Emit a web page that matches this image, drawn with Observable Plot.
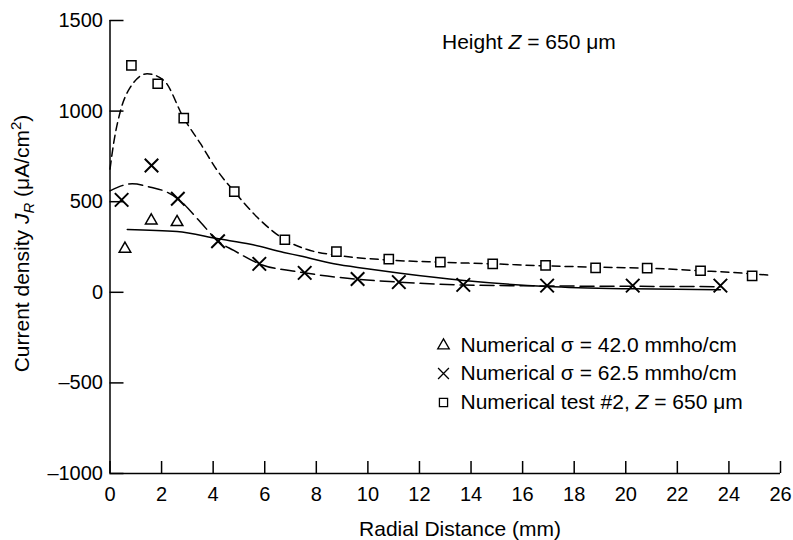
<!DOCTYPE html>
<html><head><meta charset="utf-8">
<script src="https://cdn.jsdelivr.net/npm/d3@7"></script>
<script src="https://cdn.jsdelivr.net/npm/@observablehq/plot@0.6"></script>
<style>body{margin:0;background:#fff} svg{display:block}</style>
</head><body><div id="chart"></div>
<script>
// ---- tick labels ----
const xTicks = [0,2,4,6,8,10,12,14,16,18,20,22,24,26];
const yTicks = [-1000,-500,0,500,1000,1500];

// ---- measured points ----
const triX = [0.58, 1.6, 2.6];
const triY = [240, 396, 387];

const crossX = [0.45, 1.61, 2.63, 4.19, 5.79, 7.55, 9.6, 11.2, 13.7, 16.95, 20.27, 23.67];
const crossY = [510, 700, 516, 282, 157, 107, 73, 56, 41, 37, 37, 37];

const sqX = [0.83, 1.85, 2.86, 4.82, 6.78, 8.78, 10.81, 12.81, 14.84, 16.89, 18.83, 20.83, 22.9, 24.9];
const sqY = [1252, 1151, 961, 556, 290, 225, 183, 166, 157, 148, 135, 133, 119, 91];

// ---- fitted curves ----
const solidX = [0.67, 2.6, 4.2, 5.45, 6.74, 7.39, 8.68, 9.97, 11.26, 13.72, 16.95, 20.3, 23.67];
const solidY = [347, 335, 295, 265, 220, 200, 157, 130, 105, 65, 32, 19, 14];

const longDashX = [0, 0.86, 1.57, 2.22, 2.63, 3.51, 4.19, 4.8, 5.79, 7.39, 9.6, 11.2, 13.72, 16.95, 20.3, 23.67];
const longDashY = [560, 599, 580, 552, 516, 387, 282, 231, 157, 111, 72, 56, 40, 35, 33, 31];

const shortDashX = [0, 0.15, 0.41, 0.79, 1.44, 2.09, 2.86, 3.51, 4.16, 4.82, 5.71, 6.78, 7.65, 8.78, 10.81, 12.81, 14.84, 16.89, 18.83, 20.83, 22.9, 24.9, 25.5];
const shortDashY = [680, 830, 1003, 1132, 1206, 1169, 961, 820, 672, 556, 414, 290, 236, 205, 178, 166, 157, 146, 139, 133, 119, 102, 95];

// ---- texts ----
const titleText = "Height Z = 650 \u03bcm";
const xLabel = "Radial Distance (mm)";
const yLabel = "Current density JR (\u03bcA/cm2)";
const legendLabels = ["Numerical \u03c3 = 42.0 mmho/cm", "Numerical \u03c3 = 62.5 mmho/cm", "Numerical test #2, Z = 650 \u03bcm"];
const legendSymbols = ["triangle", "times", "square"];

const zip = (xs, ys) => xs.map((x, i) => ({x, y: ys[i]}));

const W = 793, H = 540;
const mL = 109.5, mR = 13, mT = 20, mB = 67;
const innerW = W - mL - mR, innerH = H - mT - mB;
const FONT = "'Liberation Sans', Arial, sans-serif";
const rowDy = [325, 353, 382];
const legendR = [4.3, 5, 4.6];

const legendMarks = legendLabels.flatMap((label, i) => [
  Plot.dot([label], {frameAnchor: "top-left", dx: 443 - mL, dy: rowDy[i], symbol: legendSymbols[i], r: legendR[i], stroke: "black", strokeWidth: 1.3, fill: "white"}),
  Plot.text([label], {frameAnchor: "top-left", dx: 460 - mL, dy: rowDy[i], textAnchor: "start", lineAnchor: "middle", fontSize: 21, fill: "black"})
]);

const chart = Plot.plot({
  width: W, height: H,
  marginLeft: mL, marginRight: mR, marginTop: mT, marginBottom: mB,
  x: {domain: [0, 26]},
  y: {domain: [-1000, 1500]},
  style: {fontFamily: FONT, fontSize: "20px", color: "black", background: "white"},
  marks: [
    // axes lines
    Plot.ruleX([0], {y1: -1000, y2: 1500, stroke: "black", strokeWidth: 1.5}),
    Plot.ruleY([-1000], {x1: 0, x2: 26, stroke: "black", strokeWidth: 1.5}),
    // inward ticks
    Plot.tickX(xTicks, {x: d => d, insetTop: innerH - 12, stroke: "black", strokeWidth: 1.5}),
    Plot.tickY(yTicks, {y: d => d, insetRight: innerW - 14, stroke: "black", strokeWidth: 1.5}),
    Plot.axisX({ticks: xTicks, tickSize: 0, tickPadding: 13, label: null, tickFormat: d => String(d), fontSize: 20}),
    Plot.axisY({ticks: yTicks, tickSize: 0, tickPadding: 7, label: null, fontSize: 20,
      tickFormat: d => (d < 0 ? "\u2013" : "") + Math.abs(d)}),
    // curves
    Plot.line(zip(solidX, solidY), {x: "x", y: "y", curve: "monotone-x", stroke: "black", strokeWidth: 1.5}),
    Plot.line(zip(longDashX, longDashY), {x: "x", y: "y", curve: "monotone-x", stroke: "black", strokeWidth: 1.5, strokeDasharray: "14,6"}),
    Plot.line(zip(shortDashX, shortDashY), {x: "x", y: "y", curve: "monotone-x", stroke: "black", strokeWidth: 1.5, strokeDasharray: "8,5"}),
    // points
    Plot.dot(zip(triX, triY), {x: "x", y: "y", symbol: "triangle", r: 4.3, stroke: "black", fill: "white", strokeWidth: 1.5}),
    Plot.dot(zip(crossX, crossY), {x: "x", y: "y", symbol: "times", r: 6.2, stroke: "black", strokeWidth: 2}),
    Plot.dot(zip(sqX, sqY), {x: "x", y: "y", symbol: "square", r: 5.2, stroke: "black", fill: "white", strokeWidth: 1.5}),
    // title
    Plot.text([titleText], {frameAnchor: "top-left", dx: 332, dy: 21.6, textAnchor: "start", lineAnchor: "middle", fontSize: 21, fill: "black"}),
    // axis labels
    Plot.text([xLabel], {frameAnchor: "bottom", dx: 14.75, dy: 55.6, textAnchor: "middle", lineAnchor: "middle", fontSize: 21, fill: "black"}),
    Plot.text([yLabel], {frameAnchor: "left", dx: -87.5, dy: -3.5, rotate: -90, textAnchor: "middle", lineAnchor: "middle", fontSize: 21, fill: "black"}),
    // legend
    ...legendMarks
  ]
});

document.getElementById("chart").appendChild(chart);
const svg = d3.select(chart);

// Rich text: italics, sub/superscripts
function rich(node, parts) {
  node.textContent = "";
  for (const p of parts) {
    const ts = document.createElementNS("http://www.w3.org/2000/svg", "tspan");
    ts.textContent = p.t;
    if (p.i) ts.setAttribute("font-style", "italic");
    if (p.fs) ts.setAttribute("font-size", p.fs);
    if (p.dy) ts.setAttribute("dy", p.dy);
    node.appendChild(ts);
  }
}
svg.selectAll("text").each(function() {
  const txt = this.textContent;
  if (txt === titleText) {
    rich(this, [{t: "Height "}, {t: "Z", i: true}, {t: " = 650 \u03bcm"}]);
  } else if (txt === legendLabels[2]) {
    rich(this, [{t: "Numerical test #2, "}, {t: "Z", i: true}, {t: " = 650 \u03bcm"}]);
  } else if (txt === yLabel) {
    rich(this, [{t: "Current density "}, {t: "J", i: true}, {t: "R", i: true, fs: 15, dy: 5}, {t: " (\u03bcA/cm", dy: -5}, {t: "2", fs: 15, dy: -8}, {t: ")", dy: 8}]);
  }
});
</script>
</body></html>
